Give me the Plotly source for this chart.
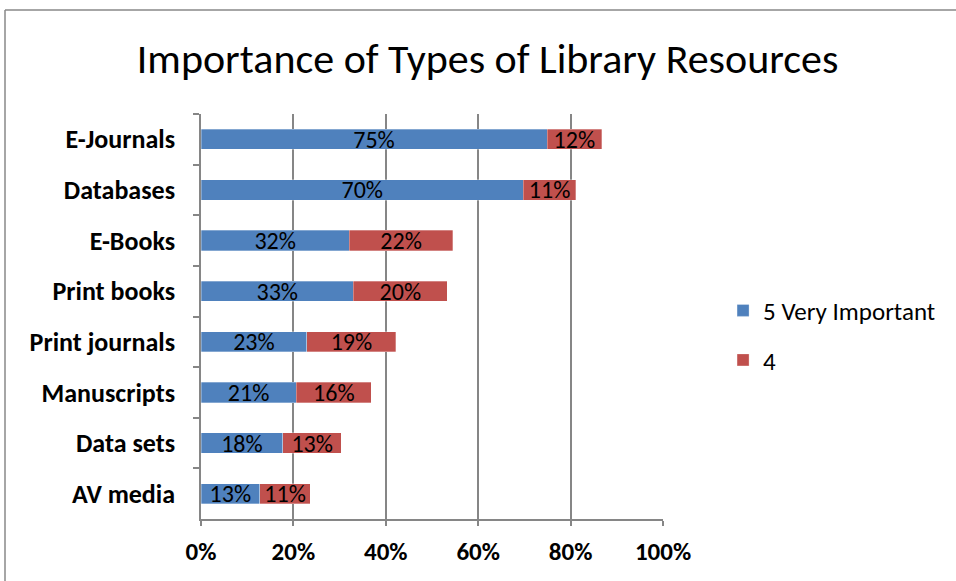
import plotly.graph_objects as go

categories = ["E-Journals", "Databases", "E-Books", "Print books", "Print journals",
              "Manuscripts", "Data sets", "AV media"]
very_important = [74.9, 69.8, 32.1, 33.0, 22.9, 20.6, 17.7, 12.7]
important_4 = [11.8, 11.3, 22.4, 20.3, 19.3, 16.3, 12.7, 11.0]
x_ticks = [0, 20, 40, 60, 80, 100]
x_tick_labels = ["0%", "20%", "40%", "60%", "80%", "100%"]
series_names = ["5 Very Important", "4"]
colors = ["#4F81BD", "#C0504D"]

FONT = "Carlito, Lato, 'Open Sans', sans-serif"

fig = go.Figure()
for name, vals, col in zip(series_names, [very_important, important_4], colors):
    fig.add_trace(go.Bar(
        y=categories, x=vals, name=name, orientation="h",
        marker=dict(color=col, line=dict(width=0.5, color="rgba(255,255,255,0.6)")),
        text=[f"{round(v):d}%" for v in vals],
        textposition="inside", insidetextanchor="middle",
        constraintext="none", cliponaxis=False,
        textfont=dict(family=FONT, size=24, color="black"),
        legendgroup=name,
    ))

fig.update_layout(
    barmode="stack", bargap=0.6,
    width=956, height=581,
    margin=dict(l=201, r=293, t=114, b=62),
    paper_bgcolor="white", plot_bgcolor="white",
    title=dict(text="Importance of Types of Library Resources", x=0.51, xanchor="center",
               y=0.9, yanchor="middle",
               font=dict(family=FONT, size=42, color="black")),
    font=dict(family=FONT, color="black"),
    legend=dict(x=1.13, y=0.454, xanchor="left", yanchor="middle",
                traceorder="grouped", tracegroupgap=14,
                font=dict(family=FONT, size=25, color="black")),
    xaxis=dict(range=[0, 100], tickvals=x_ticks, ticktext=x_tick_labels,
               showgrid=True, gridcolor="#868686", gridwidth=1.5,
               showline=True, linecolor="#868686", linewidth=1.5,
               ticks="outside", ticklen=5, tickcolor="#868686", tickwidth=1.5,
               ticklabelstandoff=4,
               tickfont=dict(family=FONT, size=25, color="black", weight="bold"),
               zeroline=False, mirror=False, fixedrange=True),
    yaxis=dict(categoryorder="array", categoryarray=categories, autorange="reversed",
               showline=True, linecolor="#868686", linewidth=1.5,
               ticks="outside", ticklen=6, tickcolor="#868686", tickwidth=1.5,
               tickson="boundaries", ticklabelstandoff=19,
               tickfont=dict(family=FONT, size=26, color="black", weight="bold"),
               showgrid=False, fixedrange=True),
)

# chart border (Excel chart area frame)
pw, ph = 462.0, 405.0
x0 = (5 - 201) / pw
x1 = (960 - 201) / pw
ytop = (519 - 10) / ph
ybot = (519 - 590) / ph
fig.add_shape(type="line", xref="paper", yref="paper", x0=x0, x1=x1, y0=ytop, y1=ytop,
              line=dict(color="#888888", width=1.5))
fig.add_shape(type="line", xref="paper", yref="paper", x0=x0, x1=x0, y0=ytop, y1=ybot,
              line=dict(color="#888888", width=1.5))

fig.write_html("out.html", config={"displayModeBar": False},
               post_script="document.body.style.margin='0';")
